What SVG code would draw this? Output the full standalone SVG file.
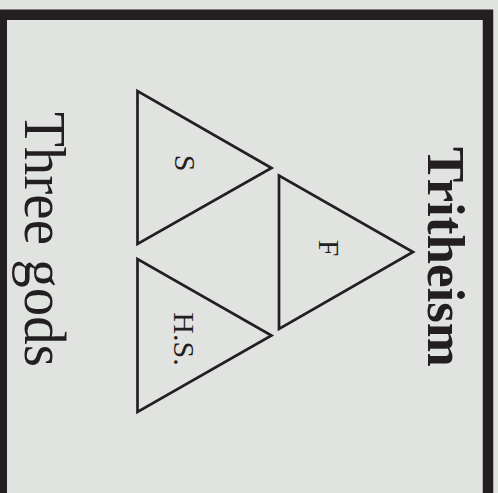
<svg xmlns="http://www.w3.org/2000/svg" width="498" height="493" viewBox="0 0 498 493">
<style>
.tri{fill:none;stroke:#231f20;stroke-width:2.7;stroke-linejoin:miter}
.lbl{font-family:"Liberation Serif",serif;font-size:30px;fill:#231f20;text-anchor:middle}
.title{font-family:"Liberation Serif",serif;fill:#231f20}
</style>
<rect x="0" y="0" width="498" height="493" fill="#e1e3e1"/>
<rect id="frame" x="1.75" y="14.75" width="486.25" height="520" fill="#e1e3e1" stroke="#231f20" stroke-width="10.5"/>
<g id="title">
<text class="title" transform="translate(428,147) rotate(90)" x="0" y="0" font-size="53" font-weight="bold" textLength="220" lengthAdjust="spacingAndGlyphs">Tritheism</text>
</g>
<g id="subtitle">
<text class="title" transform="translate(25,112) rotate(90)" x="0" y="0" font-size="60" textLength="255" lengthAdjust="spacingAndGlyphs">Three gods</text>
</g>
<g id="node-S">
<polygon class="tri" points="137.5,91 137.5,244 271.5,168"/>
<text class="lbl" transform="translate(175,163) rotate(90)">S</text>
</g>
<g id="node-F">
<polygon class="tri" points="279,175.5 279,329 413,252"/>
<text class="lbl" transform="translate(319,248) rotate(90)">F</text>
</g>
<g id="node-HS">
<polygon class="tri" points="137.5,259 137.5,412 271.5,335.5"/>
<text class="lbl" transform="translate(174,339) rotate(90)">H.S.</text>
</g>
<g id="connectors"></g>
</svg>
